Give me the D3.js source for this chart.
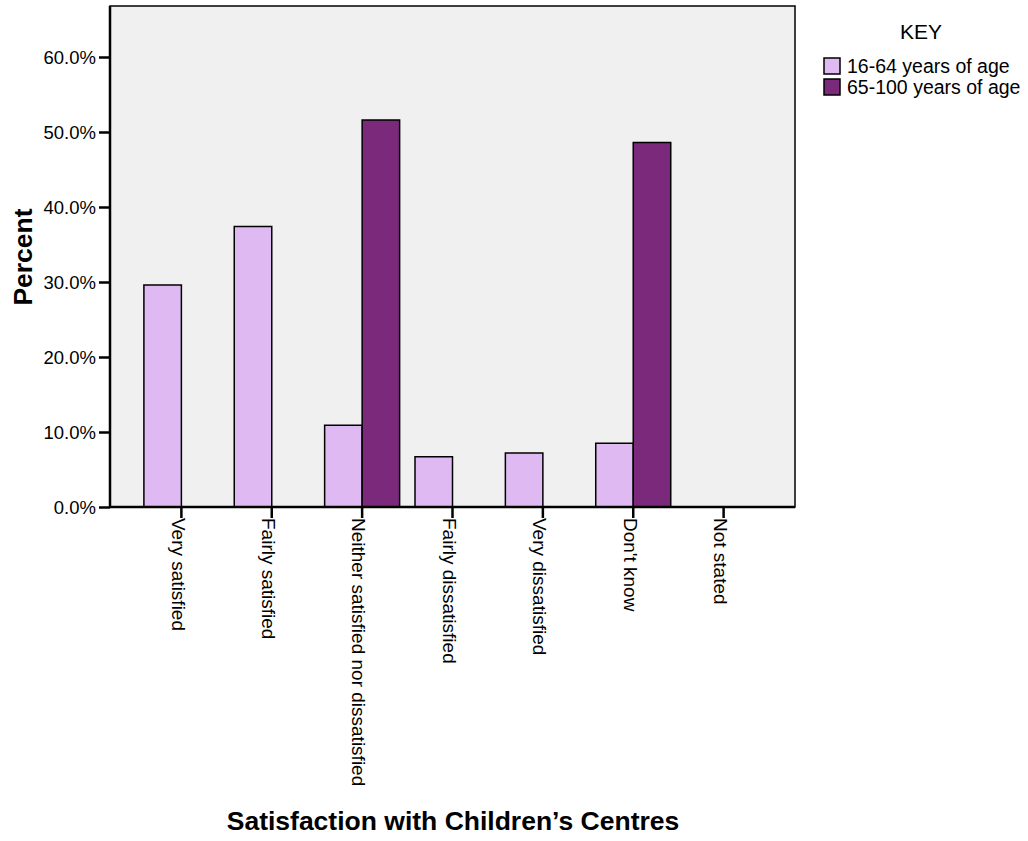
<!DOCTYPE html>
<html><head><meta charset="utf-8">
<script src="https://cdn.jsdelivr.net/npm/d3@7"></script>
<style>body{margin:0;background:#fff}svg{display:block}text{font-family:"Liberation Sans",Arial,sans-serif}</style>
</head><body>
<script>
const categories = ["Very satisfied","Fairly satisfied","Neither satisfied nor dissatisfied","Fairly dissatisfied","Very dissatisfied","Don't know","Not stated"];
const seriesNames = ["16-64 years of age","65-100 years of age"];
const young = [29.6, 37.4, 10.9, 6.7, 7.2, 8.5, 0];
const old = [0, 0, 51.6, 0, 0, 48.6, 0];
const yTicks = [0,10,20,30,40,50,60];
const colors = ["#dfb9f2","#7b2a7b"];

const W=1028,H=841;
const L=110,R=795,T=6,B=507;
const svg=d3.select("body").append("svg").attr("width",W).attr("height",H);

const y=d3.scaleLinear().domain([0,60]).range([B,B-450]);
const x=d3.scaleBand().domain(categories).range([L,R]).paddingInner(0).paddingOuter(0.29);
const xs=d3.scaleBand().domain(seriesNames).range([-37.5,37.5]);

svg.append("rect").attr("x",L).attr("y",T).attr("width",R-L).attr("height",B-T)
  .attr("fill","#f0f0f0").attr("stroke","#000").attr("stroke-width",1.5);

const data=[young,old];
categories.forEach((c,i)=>{
  seriesNames.forEach((s,j)=>{
    const v=data[j][i];
    if(v>0){
      svg.append("rect")
        .attr("x",x(c)+x.bandwidth()/2+xs(s))
        .attr("y",y(v)).attr("width",xs.bandwidth()).attr("height",y(0)-y(v))
        .attr("fill",colors[j]).attr("stroke","#000").attr("stroke-width",1.5);
    }
  });
});

// y axis
const ya=svg.append("g").attr("transform",`translate(${L},0)`)
  .call(d3.axisLeft(y).tickValues(yTicks).tickSize(11).tickPadding(3).tickFormat(d=>d.toFixed(1)+"%"));
ya.select(".domain").attr("stroke-width",2.5).attr("d",`M0,${T}V${B}`);
ya.selectAll(".tick line").attr("stroke-width",2.5);
ya.selectAll(".tick text").attr("font-size","18.5px").attr("fill","#000").attr("font-family","Liberation Sans, Arial, sans-serif").attr("dy","0.36em");

// x axis
const xa=svg.append("g").attr("transform",`translate(0,${B})`)
  .call(d3.axisBottom(x).tickSize(11).tickSizeOuter(0));
xa.select(".domain").attr("stroke-width",2.5).attr("d",`M${L},0H${R}`);
xa.selectAll(".tick line").attr("stroke-width",2.5);
xa.selectAll(".tick text").attr("font-size","19px").attr("fill","#000").attr("font-family","Liberation Sans, Arial, sans-serif")
  .attr("text-anchor","start").attr("transform","translate(-3,11) rotate(90)").attr("x",0).attr("y",0).attr("dy","0.35em");

// titles
svg.append("text").attr("transform","translate(32,257) rotate(-90)").attr("text-anchor","middle")
  .attr("font-size","26.5px").attr("font-weight","bold").text("Percent");
svg.append("text").attr("x",453).attr("y",830).attr("text-anchor","middle")
  .attr("font-size","26.5px").attr("font-weight","bold").text("Satisfaction with Children\u2019s Centres");

// legend
svg.append("text").attr("x",921).attr("y",39).attr("text-anchor","middle").attr("font-size","21px").text("KEY");
seriesNames.forEach((s,j)=>{
  const yy=58+j*21;
  svg.append("rect").attr("x",824).attr("y",yy).attr("width",16).attr("height",16)
    .attr("fill",colors[j]).attr("stroke","#000").attr("stroke-width",1.5);
  svg.append("text").attr("x",847).attr("y",yy+15).attr("font-size","19.5px").text(s);
});
</script>
</body></html>
